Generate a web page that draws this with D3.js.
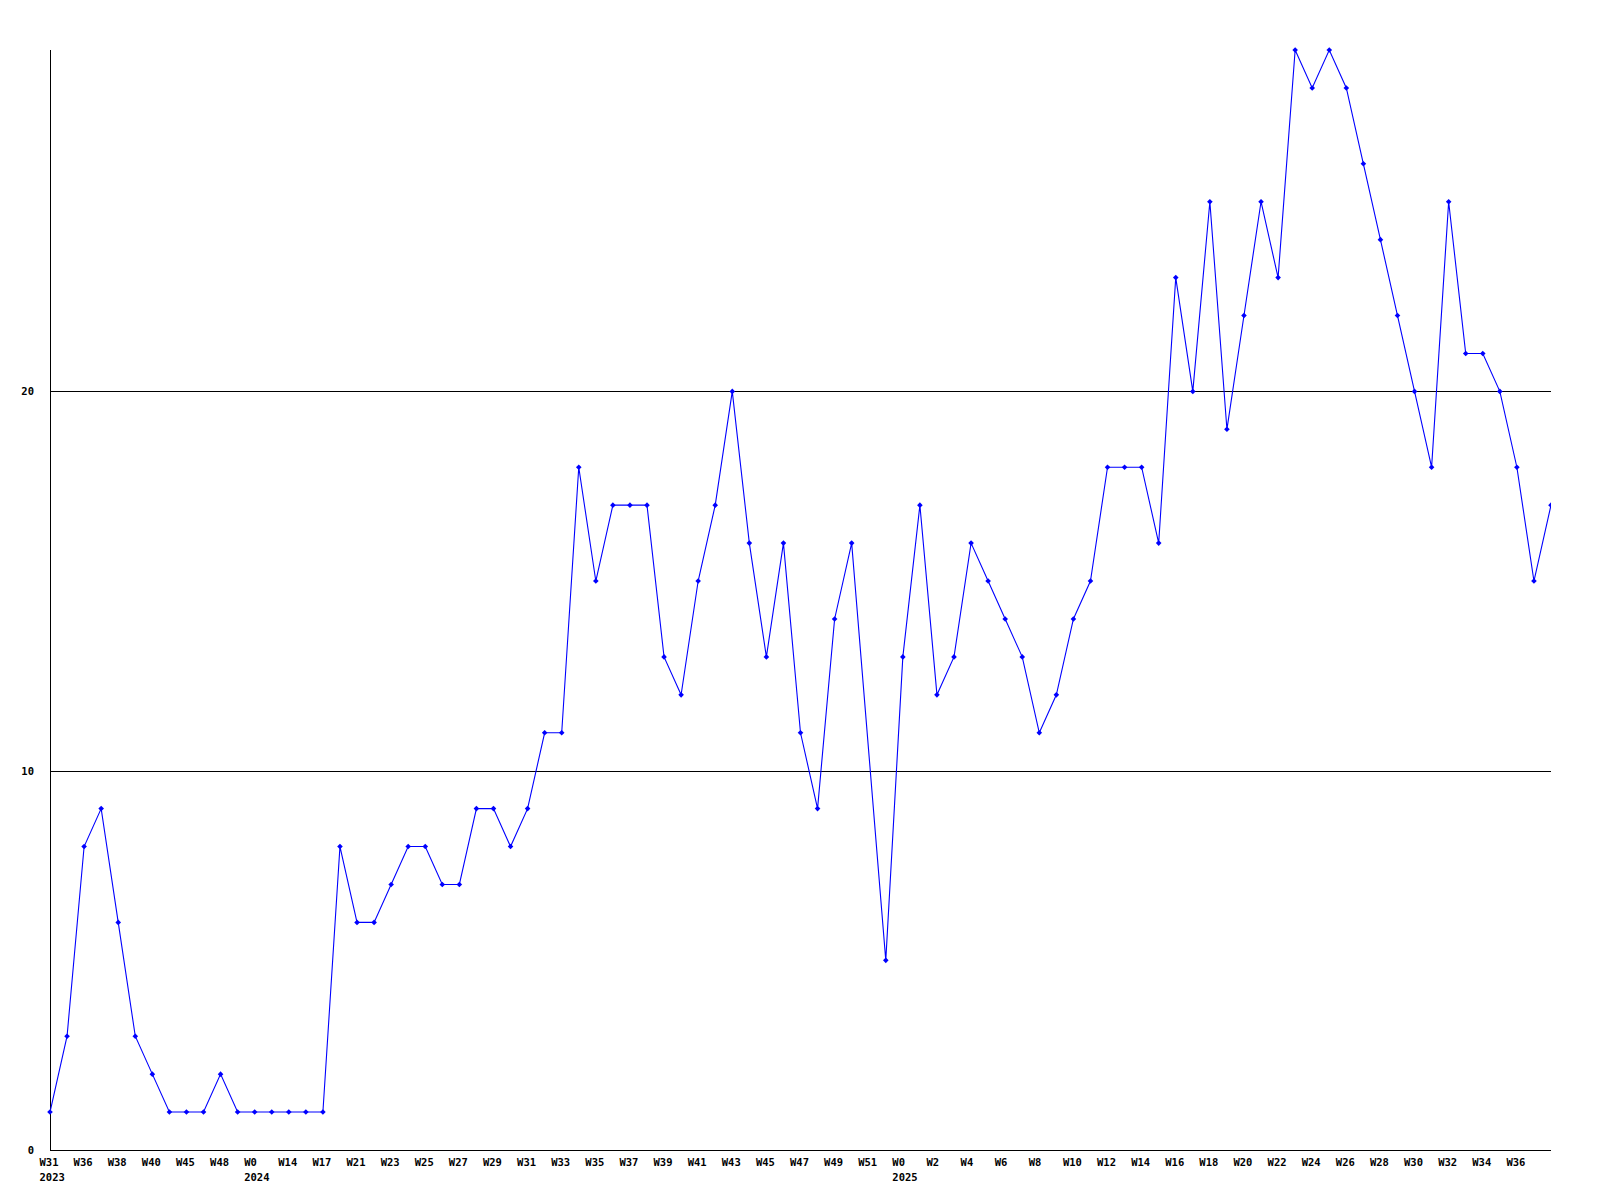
<!DOCTYPE html>
<html>
<head>
<meta charset="utf-8">
<script src="https://cdn.jsdelivr.net/npm/d3@7"></script>
<style>
  html, body { margin: 0; padding: 0; background: #fff; }
  svg { display: block; }
  text { font-family: "DejaVu Sans Mono", "Liberation Mono", monospace; font-weight: bold; font-size: 10.5px; fill: #000; }
</style>
</head>
<body>
<script>
// ---- data ----
const years = ["2023", "2024", "2025"];
const weeks2023 = ["W31","W35","W36","W37","W38","W39","W40","W44","W45","W47","W48","W50"];
const weeks2024 = ["W0","W13","W14","W16","W17","W20","W21","W22","W23","W24","W25","W26","W27","W28","W29","W30","W31","W32","W33","W34","W35","W36","W37","W38","W39","W40","W41","W42","W43","W44","W45","W46","W47","W48","W49","W50","W51","W52"];
const weeks2025 = ["W0","W1","W2","W3","W4","W5","W6","W7","W8","W9","W10","W11","W12","W13","W14","W15","W16","W17","W18","W19","W20","W21","W22","W23","W24","W25","W26","W27","W28","W29","W30","W31","W32","W33","W34","W35","W36","W37","W38"];
const values = [
  1, 3, 8, 9, 6, 3, 2, 1, 1, 1, 2, 1,
  1, 1, 1, 1, 1, 8, 6, 6, 7, 8, 8, 7, 7, 9, 9, 8, 9, 11, 11, 18, 15, 17, 17, 17, 13, 12, 15, 17, 20, 16, 13, 16, 11, 9, 14, 16, null, 5,
  13, 17, 12, 13, 16, 15, 14, 13, 11, 12, 14, 15, 18, 18, 18, 16, 23, 20, 25, 19, 22, 25, 23, 29, 28, 29, 28, 26, 24, 22, 20, 18, 25, 21, 21, 20, 18, 15, 17
];
const yTicks = [0, 10, 20];
const yMax = 29;

(function () {
  // ---- build table ----
  const weekGroups = [weeks2023, weeks2024, weeks2025];
  const points = [];
  weekGroups.forEach((g, gi) => g.forEach((w, wi) => points.push({
    week: w, year: years[gi], firstOfYear: wi === 0, value: values[points.length]
  })));
  points.forEach((p, i) => p.i = i);

  // ---- layout ----
  const W = 1600, H = 1200;
  const mLeft = 50, mRight = 1551, mTop = 50, mBottom = 1150;
  const labelOffset = 10.5;

  const svg = d3.select("body").append("svg").attr("width", W).attr("height", H);

  const x = d3.scalePoint().domain(points.map(p => p.i)).range([mLeft, mRight]);
  const y = d3.scaleLinear().domain([0, yMax]).range([mBottom, mTop]);

  // gridlines
  svg.append("g").selectAll("line").data(yTicks.filter(t => t > 0)).join("line")
    .attr("x1", mLeft).attr("x2", mRight)
    .attr("y1", d => Math.round(y(d)) + 0.5).attr("y2", d => Math.round(y(d)) + 0.5)
    .attr("stroke", "#000").attr("stroke-width", 1).attr("shape-rendering", "crispEdges");

  // axes lines
  svg.append("line").attr("x1", mLeft + 0.5).attr("x2", mLeft + 0.5).attr("y1", mTop).attr("y2", mBottom + 1)
    .attr("stroke", "#000").attr("shape-rendering", "crispEdges");
  svg.append("line").attr("x1", mLeft).attr("x2", mRight).attr("y1", mBottom + 0.5).attr("y2", mBottom + 0.5)
    .attr("stroke", "#000").attr("shape-rendering", "crispEdges");

  // y labels
  svg.append("g").selectAll("text").data(yTicks).join("text")
    .attr("x", 34).attr("y", d => Math.round(y(d)) + 4)
    .attr("text-anchor", "end").text(d => d);

  // x labels (every other point), left-aligned just before the point
  const xl = svg.append("g");
  points.filter(p => p.i % 2 === 0).forEach(p => {
    const lx = x(p.i) - labelOffset;
    const t = xl.append("text").attr("x", lx).attr("y", 1166)
      .attr("text-anchor", "start").text(p.week);
    if (lx + t.node().getComputedTextLength() > mRight) { t.remove(); return; }
    if (p.firstOfYear) {
      xl.append("text").attr("x", lx).attr("y", 1181)
        .attr("text-anchor", "start").text(p.year);
    }
  });

  // clip
  svg.append("clipPath").attr("id", "clip").append("rect")
    .attr("x", 0).attr("y", 0).attr("width", mRight).attr("height", H);

  const valid = points.filter(p => p.value != null);
  const plot = svg.append("g").attr("clip-path", "url(#clip)");

  plot.append("path").datum(valid)
    .attr("fill", "none").attr("stroke", "#0000ff").attr("stroke-width", 1.1)
    .attr("d", d3.line().x(p => x(p.i)).y(p => y(p.value)));

  plot.append("g").selectAll("path").data(valid).join("path")
    .attr("transform", p => `translate(${x(p.i)},${y(p.value)})`)
    .attr("d", "M-2.8,0L0,-2.8L2.8,0L0,2.8Z")
    .attr("fill", "#0000ff");
})();
</script>
</body>
</html>
